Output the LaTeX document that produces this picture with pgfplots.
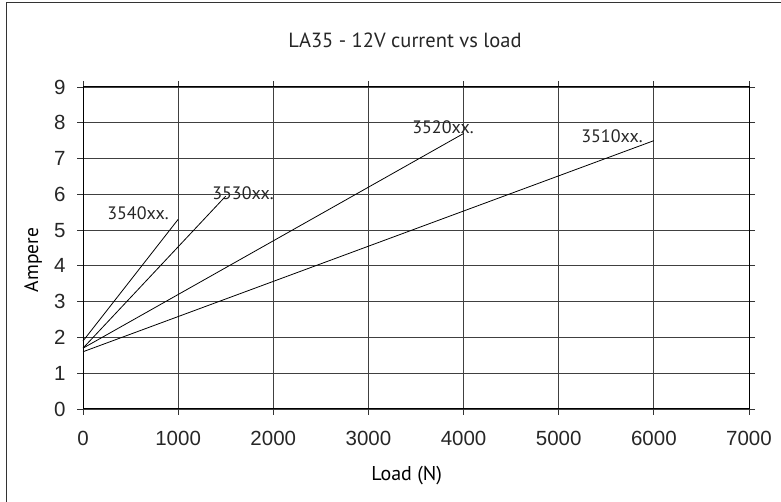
\documentclass[border=0pt]{standalone}
\usepackage{pgfplots}
\pgfplotsset{compat=1.18}
\usepackage{fontspec}
\setmainfont{Liberation Sans}
\newfontfamily\myr{PT Sans}
\begin{document}
\begin{tikzpicture}
\useasboundingbox (0pt,0pt) rectangle (781pt,502pt);
\draw[line width=1pt, black!80] (6pt,-5pt) -- (6pt,499pt) -- (790pt,499pt);
\begin{axis}[
  at={(83pt,93pt)}, anchor=origin,
  width=666pt, height=322pt, scale only axis,
  xmin=0, xmax=7000, ymin=0, ymax=9,
  xtick={0,1000,...,7000}, ytick={0,1,...,9},
  scaled ticks=false,
  /pgf/number format/set thousands separator={},
  /pgf/number format/assume math mode=true,
  tick label style={font=\fontsize{20.5}{20.5}\selectfont, text=black!85},
  xticklabel style={yshift=-13pt},
  yticklabel style={xshift=-8pt},
  tick align=outside, major tick length=6pt,
  tick style={black!80, line width=0.8pt},
  grid=major,
  major grid style={black!75, line width=0.8pt},
  axis line style={black, line width=1pt},
  xlabel={\myr\fontsize{20}{20}\selectfont Load (N)},
  ylabel={\myr\fontsize{19.5}{19.5}\selectfont Ampere},
  xlabel style={at={(axis description cs:0.486,-0.208)}, anchor=center},
  ylabel style={at={(axis description cs:-0.075,0.463)}, anchor=center},
  clip=false,
]
\addplot[black, line width=0.8pt] coordinates {(0,1.6) (6000,7.5)};
\addplot[black, line width=0.8pt] coordinates {(0,1.7) (4000,7.7)};
\addplot[black, line width=0.8pt] coordinates {(0,1.7) (1500,5.95)};
\addplot[black, line width=0.8pt] coordinates {(0,1.9) (1000,5.3)};
\node[font=\myr\fontsize{18}{18}\selectfont, text=black!85] at (axis cs:578,5.48) {3540xx.};
\node[font=\myr\fontsize{18}{18}\selectfont, text=black!85] at (axis cs:1682,6.04) {3530xx.};
\node[font=\myr\fontsize{18}{18}\selectfont, text=black!85] at (axis cs:3784,7.88) {3520xx.};
\node[font=\myr\fontsize{18}{18}\selectfont, text=black!85] at (axis cs:5560,7.63) {3510xx.};
\end{axis}
\node[font=\myr\fontsize{20.5}{20.5}\selectfont, text=black!85] at (405pt,462pt) {LA35 - 12V current vs load};
\end{tikzpicture}
\end{document}
